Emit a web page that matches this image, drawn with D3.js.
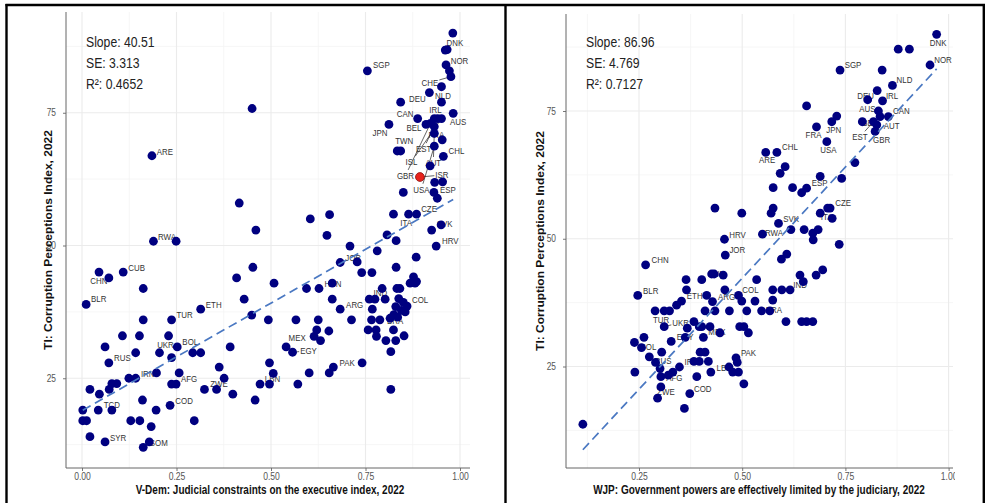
<!DOCTYPE html>
<html>
<head>
<meta charset="utf-8">
<script src="https://cdn.jsdelivr.net/npm/d3@7"></script>
<style>
  html, body { margin: 0; padding: 0; background: #fff; }
  svg text { font-family: "Liberation Sans", Arial, Helvetica, sans-serif; }
</style>
</head>
<body>
<svg id="chart" width="985" height="503"></svg>
<script>
// ---------------- data ----------------
// V-Dem judicial constraints index vs. TI CPI (one entry per country)
const vdemIndex = [
  0.981,0.961,0.966,0.963,0.972,0.976,0.755,0.951,0.919,0.843,
  0.951,0.982,0.888,0.932,0.941,0.951,0.910,0.812,0.932,0.922,
  0.932,0.953,0.932,0.834,0.843,0.956,0.921,0.894,0.933,0.954,
  0.850,0.931,0.940,0.824,0.864,0.885,0.925,0.950,0.937,0.831,
  0.807,0.884,0.709,0.781,0.728,0.683,0.740,0.767,0.831,0.877,
  0.868,0.881,0.885,0.833,0.841,0.794,0.760,0.775,0.802,0.838,
  0.850,0.860,0.830,0.845,0.855,0.825,0.835,0.815,0.768,0.683,
  0.713,0.766,0.788,0.757,0.778,0.779,0.804,0.830,0.852,0.824,
  0.817,0.817,0.741,0.654,0.665,0.601,0.571,0.557,0.540,0.621,
  0.614,0.631,0.653,0.625,0.566,0.493,0.449,0.429,0.508,0.452,
  0.409,0.594,0.627,0.662,0.662,0.604,0.655,0.648,0.460,0.416,
  0.450,0.185,0.189,0.249,0.045,0.071,0.109,0.162,0.011,0.314,
  0.162,0.237,0.107,0.152,0.229,0.061,0.205,0.252,0.142,0.293,
  0.314,0.392,0.071,0.237,0.197,0.124,0.142,0.257,0.237,0.249,
  0.079,0.092,0.072,0.021,0.046,0.363,0.376,0.324,0.356,0.399,
  0.471,0.496,0.496,0.506,0.458,0.002,0.043,0.079,0.160,0.196,
  0.233,0.002,0.012,0.129,0.153,0.297,0.183,0.021,0.061,0.178,
  0.162
];
const vdemCPI = [
  90,86.8,86.9,84.0,82.9,81.8,82.9,79.9,78.8,77.0,
  77.0,74.9,73.9,73.9,73.9,73.9,72.8,72.8,72.4,73.0,
  71.1,69.9,68.7,67.8,67.8,66.8,65.0,62.9,61.9,62.0,
  60.0,60.0,58.9,55.9,55.9,55.9,52.9,53.9,49.9,50.9,
  52.0,47.8,49.9,49.0,46.9,46.8,44.9,44.9,45.9,44.1,
  42.9,42.9,43.2,41.9,41.9,41.9,39.9,39.9,39.9,40.0,
  39.3,38.6,38.5,37.8,37.5,37.0,36.5,36.3,38.0,38.0,
  36.0,36.0,36.0,34.1,34.1,32.9,32.1,32.1,33.0,34.1,
  30.0,22.9,27.9,26.0,27.1,26.0,23.9,29.9,30.9,34.1,
  32.9,32.1,33.9,36.0,36.0,36.0,36.9,39.9,42.9,45.9,
  43.9,41.9,41.9,42.9,39.9,55.0,55.8,51.9,52.9,58.0,
  75.8,66.9,50.8,50.8,45.0,43.9,45.0,41.9,38.9,38.0,
  36.0,36.0,33.0,33.0,33.0,30.9,29.8,30.9,29.8,29.8,
  29.8,30.9,27.9,28.9,26.0,25.0,25.0,26.0,23.9,23.9,
  24.0,24.0,22.9,22.9,22.0,27.1,25.0,22.9,22.9,22.0,
  23.9,23.9,27.9,25.9,20.9,19.0,19.0,19.0,20.9,19.0,
  19.9,17.0,17.0,17.0,17.0,17.0,15.9,14.0,13.0,13.0,
  12.0
];
const vdemCode = [
  'DNK','','','NOR','','CHE','SGP','NLD','DEU','',
  'IRL','AUS','CAN','','EST','ISL','BEL','JPN','FRA','GBR',
  'AUT','','USA','TWN','','CHL','','ISR','','',
  '','ESP','','','ITA','CZE','SVK','','HRV','',
  '','','','','','JOR','','','','',
  '','','','','','','IND','','','',
  '','COL','','','','','','BRA','','ARG',
  '','','','','','','','','','',
  '','','PAK','','','','','EGY','MEX','',
  '','','','','','','','','','',
  '','','HUN','','','','','','','',
  '','ARE','RWA','','','CHN','CUB','','BLR','ETH',
  '','TUR','','','','','UKR','BOL','','',
  '','','RUS','','','','IRN','','','AFG',
  '','','','','','','','','ZWE','',
  'LBN','','','','','','TCD','','','',
  'COD','','','','','','','','SYR','',
  'SOM'
];

// WJP judiciary constraint score vs. TI CPI
const wjpIndex = [
  0.971,0.878,0.905,0.955,0.737,0.839,0.864,0.827,0.804,0.840,
  0.656,0.830,0.834,0.854,0.729,0.717,0.791,0.826,0.818,0.822,
  0.680,0.705,0.557,0.584,0.773,0.604,0.592,0.689,0.741,0.575,
  0.622,0.644,0.656,0.434,0.499,0.575,0.570,0.707,0.713,0.689,
  0.718,0.588,0.618,0.650,0.684,0.549,0.671,0.672,0.457,0.735,
  0.459,0.608,0.595,0.266,0.695,0.679,0.640,0.648,0.364,0.402,
  0.426,0.432,0.454,0.535,0.365,0.458,0.574,0.596,0.616,0.247,
  0.353,0.341,0.414,0.428,0.491,0.499,0.531,0.574,0.289,0.311,
  0.324,0.410,0.434,0.469,0.511,0.547,0.567,0.606,0.644,0.656,
  0.671,0.383,0.396,0.311,0.367,0.402,0.422,0.494,0.504,0.515,
  0.446,0.262,0.239,0.256,0.328,0.362,0.406,0.275,0.305,0.290,
  0.301,0.398,0.410,0.383,0.396,0.418,0.485,0.488,0.348,0.332,
  0.321,0.303,0.240,0.390,0.424,0.468,0.477,0.491,0.504,0.303,
  0.373,0.295,0.360,0.114
];
const wjpCPI = [
  90.0,87.1,87.1,84.0,83.0,83.0,80.0,79.0,77.2,77.0,
  76.0,75.0,73.9,73.9,74.0,72.9,72.9,72.3,72.9,71.0,
  71.9,69.0,66.9,66.9,64.9,64.1,62.8,62.2,61.8,60.0,
  60.0,59.0,59.9,56.0,55.0,56.0,55.0,56.0,56.0,55.0,
  54.0,53.0,51.8,51.8,51.8,50.9,51.1,49.8,49.9,48.9,
  46.8,47.0,46.0,44.9,43.9,42.9,42.9,41.6,42.0,42.0,
  43.1,43.1,42.9,42.0,40.0,40.0,40.0,40.0,40.0,38.9,
  37.8,37.0,38.9,37.7,38.9,37.8,37.8,38.0,35.9,35.9,
  35.9,35.9,35.9,35.9,35.9,35.9,35.9,33.8,33.8,33.8,
  33.8,33.8,32.8,32.8,32.5,32.8,32.8,32.8,32.8,31.6,
  31.6,30.7,29.7,28.7,29.9,30.7,30.7,26.9,27.8,25.8,
  24.6,27.8,27.8,26.0,26.0,26.0,26.7,25.8,24.9,23.9,
  23.3,23.0,23.9,23.0,23.9,24.9,23.9,23.9,21.6,21.0,
  19.7,18.8,16.8,13.7
];
const wjpCode = [
  'DNK','','','NOR','SGP','','NLD','','DEU','IRL',
  '','AUS','AUT','CAN','','JPN','','BEL','EST','GBR',
  'FRA','USA','ARE','CHL','','','','','','',
  '','','ESP','','','','','','CZE','',
  'ITA','SVK','','','','RWA','','','HRV','',
  'JOR','','','CHN','','','','','','',
  '','HUN','','','','','','','IND','BLR',
  '','','ETH','ARG','COL','','','','TUR','',
  '','','','','','','BRA','','','',
  '','','','UKR','','','','','','',
  'MEX','','BOL','','EGY','','','','RUS','',
  '','','','IRN','','','PAK','','','AFG',
  '','','','','','','LBN','','','ZWE',
  'COD','','',''
];

// OLS fits: slope, standard error, R squared, intercept
const vdemFit = [40.51, 3.313, 0.4652, 18.9];
const wjpFit  = [86.96, 4.769, 0.7127, -1.2];

const xTickValues = [0, 0.25, 0.5, 0.75, 1];
const yTickValues = [25, 50, 75];
const xMinorValues = [0.125, 0.375, 0.625, 0.875];
const yMinorValues = [12.5, 37.5, 62.5, 87.5];

const vdemXTitle = 'V-Dem: Judicial constraints on the executive index, 2022';
const wjpXTitle  = 'WJP: Government powers are effectively limited by the judiciary, 2022';
const yTitle     = 'TI: Corruption Perceptions Index, 2022';
const highlightCode = 'ISR';

// ---------------- layout ----------------
const SY = 1.2;          // text is drawn slightly taller than wide
const NAVY = '#000080';
const svg = d3.select('#chart');

// label placement (pixel nudges from each point)
const vdemNudge = {
  DNK:[2,10], NOR:[13.5,-4], SGP:[14,-6], CHE:[-21,6], DEU:[-12,6.5], NLD:[1.5,9],
  IRL:[-6,8], CAN:[-12.5,-4.5], AUS:[5,8.5], BEL:[-12,3.5], JPN:[-9,8.5], FRA:[2,8.5],
  TWN:[7,-10], EST:[-14,30], CHL:[13,-5.5], ISL:[-30,43], AUT:[-1,29], GBR:[-25,52],
  ISR:[22,-2], USA:[-13,43], ESP:[14,-2.5], CZE:[12.5,-5], ITA:[-2.5,8.5], SVK:[13,-6],
  HRV:[14,-5], JOR:[13,-5], HUN:[14,-5], IND:[11,-6], ARG:[14.5,-5], COL:[13,-6],
  BRA:[5,2], MEX:[11,-9.5], EGY:[16,-1.5], PAK:[-15,0], LBN:[12.5,-5.5], ZWE:[2.5,-6],
  AFG:[13,-5.5], IRN:[12,-5], RUS:[13.5,-5.5], UKR:[6,-8.5], BOL:[13,-5], COD:[14,-5],
  TCD:[13.5,-5], SYR:[13,-4.5], SOM:[15.5,-4.5], TUR:[13,-5], ETH:[13,-5], BLR:[12.5,-5.5],
  CHN:[-10,3], CUB:[13.5,-4.5], RWA:[13.5,-5], ARE:[13,-4.5]
};
const wjpNudge = {
  DNK:[1.5,8], NOR:[13,-5], SGP:[13,-5], NLD:[12,-5.5], DEU:[-2,-4], IRL:[9.5,-5],
  AUS:[-11,-2], CAN:[13,-5.5], BEL:[-7,-2], AUT:[11.5,9.5], JPN:[2,7.5], FRA:[-3,8],
  EST:[-13.5,15], GBR:[6.5,8], USA:[1.5,8.5], CHL:[13,-5.5], ARE:[1.5,7.5], ESP:[13,-5.5],
  CZE:[13,-5], ITA:[-5.5,-1.5], SVK:[12.5,-5], RWA:[11.5,-1], HRV:[13,-5], JOR:[12,-5],
  CHN:[14.5,-5], HUN:[2.5,0], BLR:[13,-4.5], ETH:[-12,0], ARG:[14,-5], COL:[12,-5.5],
  IND:[10,-5], BRA:[4,-1.5], TUR:[6,8.5], UKR:[16.5,-4], MEX:[-3,-1], EGY:[14,-4.5],
  BOL:[14,4], PAK:[12.5,-5.5], RUS:[1.5,8.5], IRN:[-2.5,0], LBN:[-8.5,-4], AFG:[1.5,6],
  ZWE:[5,5], COD:[13,-5]
};

const panels = [
  {
    xs: vdemIndex, ys: vdemCPI, codes: vdemCode, fit: vdemFit, xTitle: vdemXTitle,
    box: {left: 66, right: 470, top: 12, bottom: 468},
    xRange: [82, 460], yRange: [511, -20],
    clip: [8, 6, 496, 497], yTitleX: 48, xTitleX: 270,
    nudge: vdemNudge, leaders: ['CHE','EST','ISL','AUT','GBR','ISR','USA','CZE','EGY']
  },
  {
    xs: wjpIndex, ys: wjpCPI, codes: wjpCode, fit: wjpFit, xTitle: wjpXTitle,
    box: {left: 566, right: 953, top: 14, bottom: 468},
    xRange: [535.8, 948.6], yRange: [494.25, -16.75],
    clip: [507, 6, 448, 497], yTitleX: 540, xTitleX: 759,
    nudge: wjpNudge, leaders: ['UKR','EST']
  }
];

function stretchedText(parent, x, y, str, size, opts = {}) {
  return parent.append('text')
    .attr('transform', `translate(${x},${y}) scale(1,${SY})`)
    .attr('font-size', size)
    .attr('text-anchor', opts.anchor || 'start')
    .attr('font-weight', opts.weight || 'normal')
    .attr('fill', opts.fill || '#222')
    .attr('dy', opts.dy || 0)
    .text(str);
}

const defs = svg.append('defs');

panels.forEach((p, pi) => {
  const clipId = 'panel-clip-' + pi;
  defs.append('clipPath').attr('id', clipId).append('rect')
    .attr('x', p.clip[0]).attr('y', p.clip[1]).attr('width', p.clip[2]).attr('height', p.clip[3]);
  const g = svg.append('g').attr('clip-path', `url(#${clipId})`);
  const b = p.box;

  const x = d3.scaleLinear().domain([0, 1]).range(p.xRange);
  const y = d3.scaleLinear().domain([0, 100]).range(p.yRange);
  const inX = v => x(v) >= b.left && x(v) <= b.right;
  const inY = v => y(v) >= b.top && y(v) <= b.bottom;

  // grid
  const grid = g.append('g');
  grid.selectAll('.minx').data(xMinorValues.filter(inX)).join('line')
    .attr('x1', d => x(d)).attr('x2', d => x(d)).attr('y1', b.top).attr('y2', b.bottom)
    .attr('stroke', '#f4f4f4').attr('stroke-width', 0.8);
  grid.selectAll('.miny').data(yMinorValues.filter(inY)).join('line')
    .attr('y1', d => y(d)).attr('y2', d => y(d)).attr('x1', b.left).attr('x2', b.right)
    .attr('stroke', '#f4f4f4').attr('stroke-width', 0.8);
  grid.selectAll('.majx').data(xTickValues.filter(inX)).join('line')
    .attr('x1', d => x(d)).attr('x2', d => x(d)).attr('y1', b.top).attr('y2', b.bottom)
    .attr('stroke', '#ebebeb').attr('stroke-width', 1.1);
  grid.selectAll('.majy').data(yTickValues.filter(inY)).join('line')
    .attr('y1', d => y(d)).attr('y2', d => y(d)).attr('x1', b.left).attr('x2', b.right)
    .attr('stroke', '#ebebeb').attr('stroke-width', 1.1);

  // axes
  const xAxis = d3.axisBottom(x).tickValues(xTickValues.filter(inX))
    .tickFormat(d3.format('.2f')).tickSize(3).tickSizeOuter(0);
  const gx = g.append('g').attr('transform', `translate(0,${b.bottom})`).call(xAxis);
  gx.select('.domain').remove();
  gx.selectAll('line').attr('stroke', '#777');
  gx.selectAll('text').attr('font-size', 8.6).attr('fill', '#555')
    .attr('font-family', '"Liberation Sans", Arial, sans-serif')
    .attr('y', 10.4).attr('dy', 0).attr('transform', `scale(1,${SY})`);

  const yAxis = d3.axisLeft(y).tickValues(yTickValues).tickSize(3).tickPadding(7).tickSizeOuter(0);
  const gy = g.append('g').attr('transform', `translate(${b.left},0)`).call(yAxis);
  gy.select('.domain').remove();
  gy.selectAll('line').attr('stroke', '#777');
  gy.selectAll('text').attr('font-size', 8.4).attr('fill', '#555')
    .attr('font-family', '"Liberation Sans", Arial, sans-serif')
    .attr('transform', `scale(1,${SY})`);

  g.append('line').attr('x1', b.left).attr('x2', b.left).attr('y1', b.top).attr('y2', b.bottom)
    .attr('stroke', '#666').attr('stroke-width', 1);
  g.append('line').attr('x1', b.left).attr('x2', b.right).attr('y1', b.bottom).attr('y2', b.bottom)
    .attr('stroke', '#666').attr('stroke-width', 1);

  // country labels (under the points), with leader segments where needed
  const segG = g.append('g');
  const labG = g.append('g');
  p.codes.forEach((c, i) => {
    if (!c) return;
    const px = x(p.xs[i]), py = y(p.ys[i]);
    const off = p.nudge[c] || [12, -5];
    const lx = px + off[0], ly = py + off[1];
    const t = stretchedText(labG, lx, ly, c, 7.9, {anchor: 'middle', dy: '0.35em', fill: '#333'});
    if (p.leaders.includes(c)) {
      const bb = t.node().getBBox();
      const hw = bb.width / 2 + 1, hh = bb.height * SY / 2;
      const dx = px - lx, dy = py - ly;
      const s = Math.min(dx ? hw / Math.abs(dx) : Infinity, dy ? hh / Math.abs(dy) : Infinity);
      if (s < 1) {
        segG.append('line')
          .attr('x1', lx + dx * s).attr('y1', ly + dy * s).attr('x2', px).attr('y2', py)
          .attr('stroke', '#222').attr('stroke-width', 0.7);
      }
    }
  });

  // points
  const idx = d3.range(p.xs.length);
  g.append('g').selectAll('circle').data(idx).join('circle')
    .attr('cx', i => x(p.xs[i])).attr('cy', i => y(p.ys[i])).attr('r', 4.4)
    .attr('fill', i => p.codes[i] === highlightCode && pi === 0 ? '#e8231c' : NAVY)
    .attr('stroke', i => p.codes[i] === highlightCode && pi === 0 ? '#8a0e0a' : 'none')
    .attr('stroke-width', 0.8);

  // fitted line
  const [slope, se, r2, intercept] = p.fit;
  const ext = d3.extent(p.xs);
  const line = d3.line().x(d => x(d)).y(d => y(intercept + slope * d));
  g.append('path').datum(ext).attr('d', line)
    .attr('fill', 'none').attr('stroke', '#4a78c2').attr('stroke-width', 1.7)
    .attr('stroke-dasharray', '9,5');

  // fit statistics
  const sx = b.left + 20;
  stretchedText(g, sx, 47, `Slope: ${slope.toFixed(2)}`, 12.2);
  stretchedText(g, sx, 68, `SE: ${se.toFixed(3)}`, 12.2);
  stretchedText(g, sx, 89, `R\u00B2: ${r2.toFixed(4)}`, 12.2);

  // axis titles
  stretchedText(g, p.xTitleX, 494, p.xTitle, 10, {anchor: 'middle', weight: 'bold', fill: '#111'});
  g.append('text')
    .attr('transform', `translate(${p.yTitleX},${(b.top + b.bottom) / 2}) rotate(-90) scale(${SY},1)`)
    .attr('text-anchor', 'middle').attr('dy', '0.35em')
    .attr('font-size', 10).attr('font-weight', 'bold').attr('fill', '#111')
    .text(yTitle);
});

// table frame around the two charts
const frame = svg.append('g').attr('stroke', '#000').attr('stroke-width', 2.4);
frame.append('line').attr('x1', 5.5).attr('x2', 985).attr('y1', 5).attr('y2', 5);
frame.append('line').attr('x1', 6.5).attr('x2', 6.5).attr('y1', 4).attr('y2', 503);
frame.append('line').attr('x1', 505.5).attr('x2', 505.5).attr('y1', 4).attr('y2', 503);
frame.append('line').attr('x1', 983.8).attr('x2', 983.8).attr('y1', 4).attr('y2', 503);
</script>
</body>
</html>
